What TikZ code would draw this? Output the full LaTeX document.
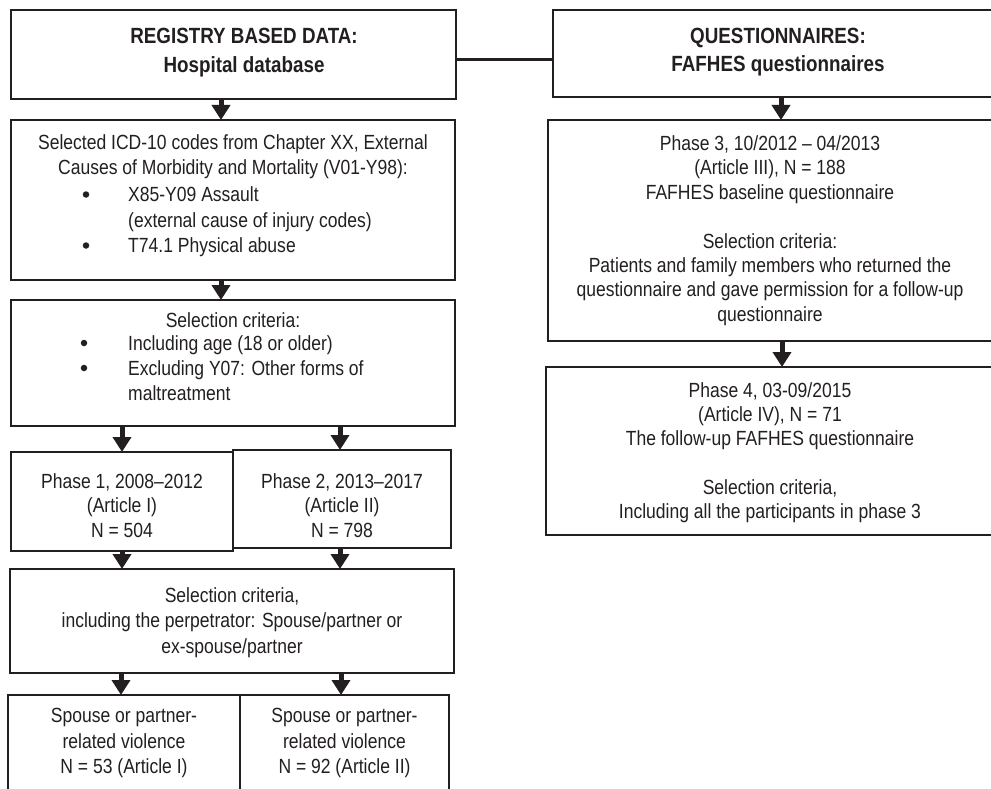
\documentclass[tikz,border=0pt]{standalone}
\usepackage{fontspec}
\setmainfont{Liberation Sans}[FakeStretch=0.855]
\usetikzlibrary{arrows.meta}
\definecolor{ink}{RGB}{35,31,32}
\tikzset{
  box/.style={draw=ink, line width=2.7pt, inner sep=0pt, outer sep=0pt, anchor=north west},
  arr/.style={draw=ink, line width=5pt, -{Triangle[width=18pt,length=15pt]}},
  link/.style={draw=ink, line width=3pt},
  txt/.style={text=ink, inner sep=0pt, anchor=base, font=\fontsize{20.5}{24.5}\selectfont},
  ttl/.style={txt, font=\fontsize{22}{26}\selectfont\bfseries},
  lft/.style={txt, anchor=base west},
  dot/.style={circle, fill=ink, draw=none, minimum size=6.5pt, inner sep=0pt},
}
\begin{document}
\begin{tikzpicture}[x=1pt,y=-1pt]
\useasboundingbox (0,0) rectangle (991,789);
% boxes
\node[box, minimum width=445pt, minimum height=89pt] (A) at (11,10) {};
\node[box, minimum width=450pt, minimum height=87pt] (Q) at (553,10) {};
\node[box, minimum width=444pt, minimum height=160pt] (C) at (11,120) {};
\node[box, minimum width=444pt, minimum height=126pt] (D) at (11,300) {};
\node[box, minimum width=222pt, minimum height=99pt] (P1) at (11,452) {};
\node[box, minimum width=218pt, minimum height=98pt] (P2) at (233,450) {};
\node[box, minimum width=444pt, minimum height=104pt] (E) at (10,569) {};
\node[box, minimum width=232pt, minimum height=110pt] (S1) at (8,695) {};
\node[box, minimum width=209pt, minimum height=110pt] (S2) at (240,695) {};
\node[box, minimum width=460pt, minimum height=221pt] (P3) at (548,120) {};
\node[box, minimum width=462pt, minimum height=168pt] (P4) at (546,367) {};
% arrow columns
\coordinate (xa) at (221,0);
\coordinate (xq) at (781,0);
\coordinate (xp) at (782,0);
\coordinate (x1) at (122,0);
\coordinate (x2) at (340,0);
\coordinate (x3) at (121,0);
\coordinate (x4) at (341,0);
\coordinate (ly) at (0,60);
% connectors
\draw[link] (A.east |- ly) -- (Q.west |- ly);
\draw[arr] (A.south -| xa) -- (C.north -| xa);
\draw[arr] (C.south -| xa) -- (D.north -| xa);
\draw[arr] (D.south -| x1) -- (P1.north -| x1);
\draw[arr] (D.south -| x2) -- (P2.north -| x2);
\draw[arr] (P1.south -| x1) -- (E.north -| x1);
\draw[arr] (P2.south -| x2) -- (E.north -| x2);
\draw[arr] (E.south -| x3) -- (S1.north -| x3);
\draw[arr] (E.south -| x4) -- (S2.north -| x4);
\draw[arr] (Q.south -| xq) -- (P3.north -| xq);
\draw[arr] (P3.south -| xp) -- (P4.north -| xp);
% texts A
\node[ttl] (a1) at (244,44) {REGISTRY BASED DATA:};
\node[ttl] (a2) at (244,73) {Hospital database};
% texts Q
\node[ttl] (q1) at (778,43.5) {QUESTIONNAIRES:};
\node[ttl] (q2) at (778,72) {FAFHES questionnaires};
% texts C
\node[txt] (c1) at (233,149.5) {Selected ICD-10 codes from Chapter XX, External};
\node[txt] (c2) at (233,175) {Causes of Morbidity and Mortality (V01-Y98):};
\node[dot] (cb1) at (86,194.5) {};
\node[lft] (c3) at (128,201.5) {X85-Y09 Assault};
\node[lft] (c4) at (128,227) {(external cause of injury codes)};
\node[dot] (cb2) at (86,245.5) {};
\node[lft] (c5) at (128,252.5) {T74.1 Physical abuse};
% texts D
\node[txt] (d1) at (233,327) {Selection criteria:};
\node[dot] (db1) at (84,343) {};
\node[lft] (d2) at (128,350) {Including age (18 or older)};
\node[dot] (db2) at (84,368) {};
\node[lft] (d3) at (128,375) {Excluding Y07: Other forms of};
\node[lft] (d4) at (128,400) {maltreatment};
% texts P1, P2
\node[txt] (p11) at (122,488) {Phase 1, 2008–2012};
\node[txt] (p12) at (122,512.5) {(Article I)};
\node[txt] (p13) at (122,537) {N = 504};
\node[txt] (p21) at (342,488) {Phase 2, 2013–2017};
\node[txt] (p22) at (342,512.5) {(Article II)};
\node[txt] (p23) at (342,537) {N = 798};
% texts E
\node[txt] (e1) at (232,602) {Selection criteria,};
\node[txt] (e2) at (232,627.5) {including the perpetrator: Spouse/partner or};
\node[txt] (e3) at (232,653) {ex-spouse/partner};
% texts S1, S2
\node[txt] (s11) at (124,722.5) {Spouse or partner-};
\node[txt] (s12) at (124,748) {related violence};
\node[txt] (s13) at (124,773.5) {N = 53 (Article I)};
\node[txt] (s21) at (344.5,722.5) {Spouse or partner-};
\node[txt] (s22) at (344.5,748) {related violence};
\node[txt] (s23) at (344.5,773.5) {N = 92 (Article II)};
% texts P3
\node[txt] (r1) at (770,150.7) {Phase 3, 10/2012 – 04/2013};
\node[txt] (r2) at (770,175) {(Article III), N = 188};
\node[txt] (r3) at (770,199.3) {FAFHES baseline questionnaire};
\node[txt] (r4) at (770,248) {Selection criteria:};
\node[txt] (r5) at (770,272.3) {Patients and family members who returned the};
\node[txt] (r6) at (770,296.6) {questionnaire and gave permission for a follow-up};
\node[txt] (r7) at (770,321) {questionnaire};
% texts P4
\node[txt] (f1) at (770,397) {Phase 4, 03-09/2015};
\node[txt] (f2) at (770,421.3) {(Article IV), N = 71};
\node[txt] (f3) at (770,445.6) {The follow-up FAFHES questionnaire};
\node[txt] (f4) at (770,494.2) {Selection criteria,};
\node[txt] (f5) at (770,518.5) {Including all the participants in phase 3};
\end{tikzpicture}
\end{document}
